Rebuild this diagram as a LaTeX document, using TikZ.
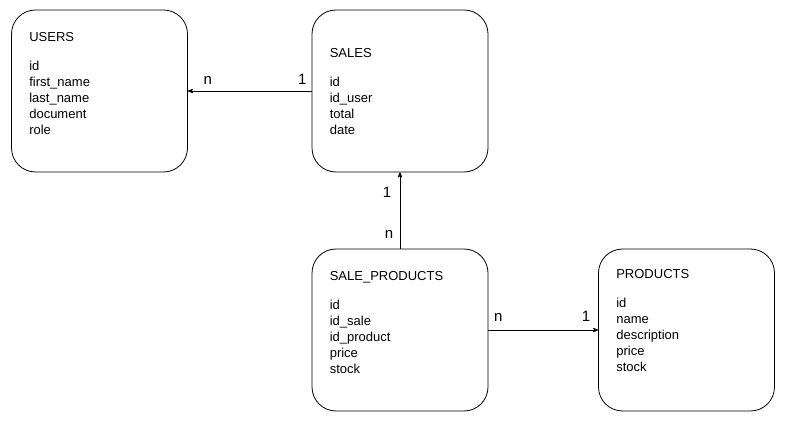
\documentclass[tikz,border=0pt]{standalone}
\usepackage{fontspec}
\setmainfont{Liberation Sans}
\usepackage{tikz}
\usetikzlibrary{positioning, arrows}
\tikzset{
>=stealth', % small filled arrow heads
entity/.style={draw, line width=0.8pt, rounded corners=24pt, minimum width=176pt, minimum height=162pt}, % one box per table
fields/.style={align=left, inner sep=0pt, font=\fontsize{13}{16}\selectfont}, % table name and its columns
card/.style={anchor=base, inner sep=0pt, font=\fontsize{15}{18}\selectfont}, % n and 1 on the links
link/.style={->, line width=0.8pt}
}

\begin{document}
\begin{tikzpicture}[x=1pt, y=-1pt]
      \useasboundingbox (0,0) rectangle (795,435);

      \node[entity] (users) at (99.5,91) {};
      \node[entity] (sales) at (400,91) {};
      \node[entity] (saleproducts) at (400,330) {};
      \node[entity] (products) at (686.5,330) {};

      \node[fields, below right=22.5pt and 18pt of users.north west] (userstext) {USERS\\[13pt]id\\first\_name\\last\_name\\document\\role};
      \node[fields, below right=38.5pt and 18pt of sales.north west] (salestext) {SALES\\[13pt]id\\id\_user\\total\\date};
      \node[fields, below right=22.5pt and 18pt of saleproducts.north west] (saleproductstext) {SALE\_PRODUCTS\\[13pt]id\\id\_sale\\id\_product\\price\\stock};
      \node[fields, below right=20.5pt and 18pt of products.north west] (productstext) {PRODUCTS\\[13pt]id\\name\\description\\price\\stock};

      \draw[link] (sales) -- (users)
      node[card, pos=0.84, yshift=6pt] {n}
      node[card, pos=0.075, yshift=6pt] {1};
      \draw[link] (saleproducts) -- (sales)
      node[card, pos=0.13, xshift=-11pt] {n}
      node[card, pos=0.675, xshift=-13pt] {1};
      \draw[link] (saleproducts) -- (products)
      node[card, pos=0.09, yshift=8pt] {n}
      node[card, pos=0.89, yshift=8pt] {1};
    \end{tikzpicture}
\end{document}
